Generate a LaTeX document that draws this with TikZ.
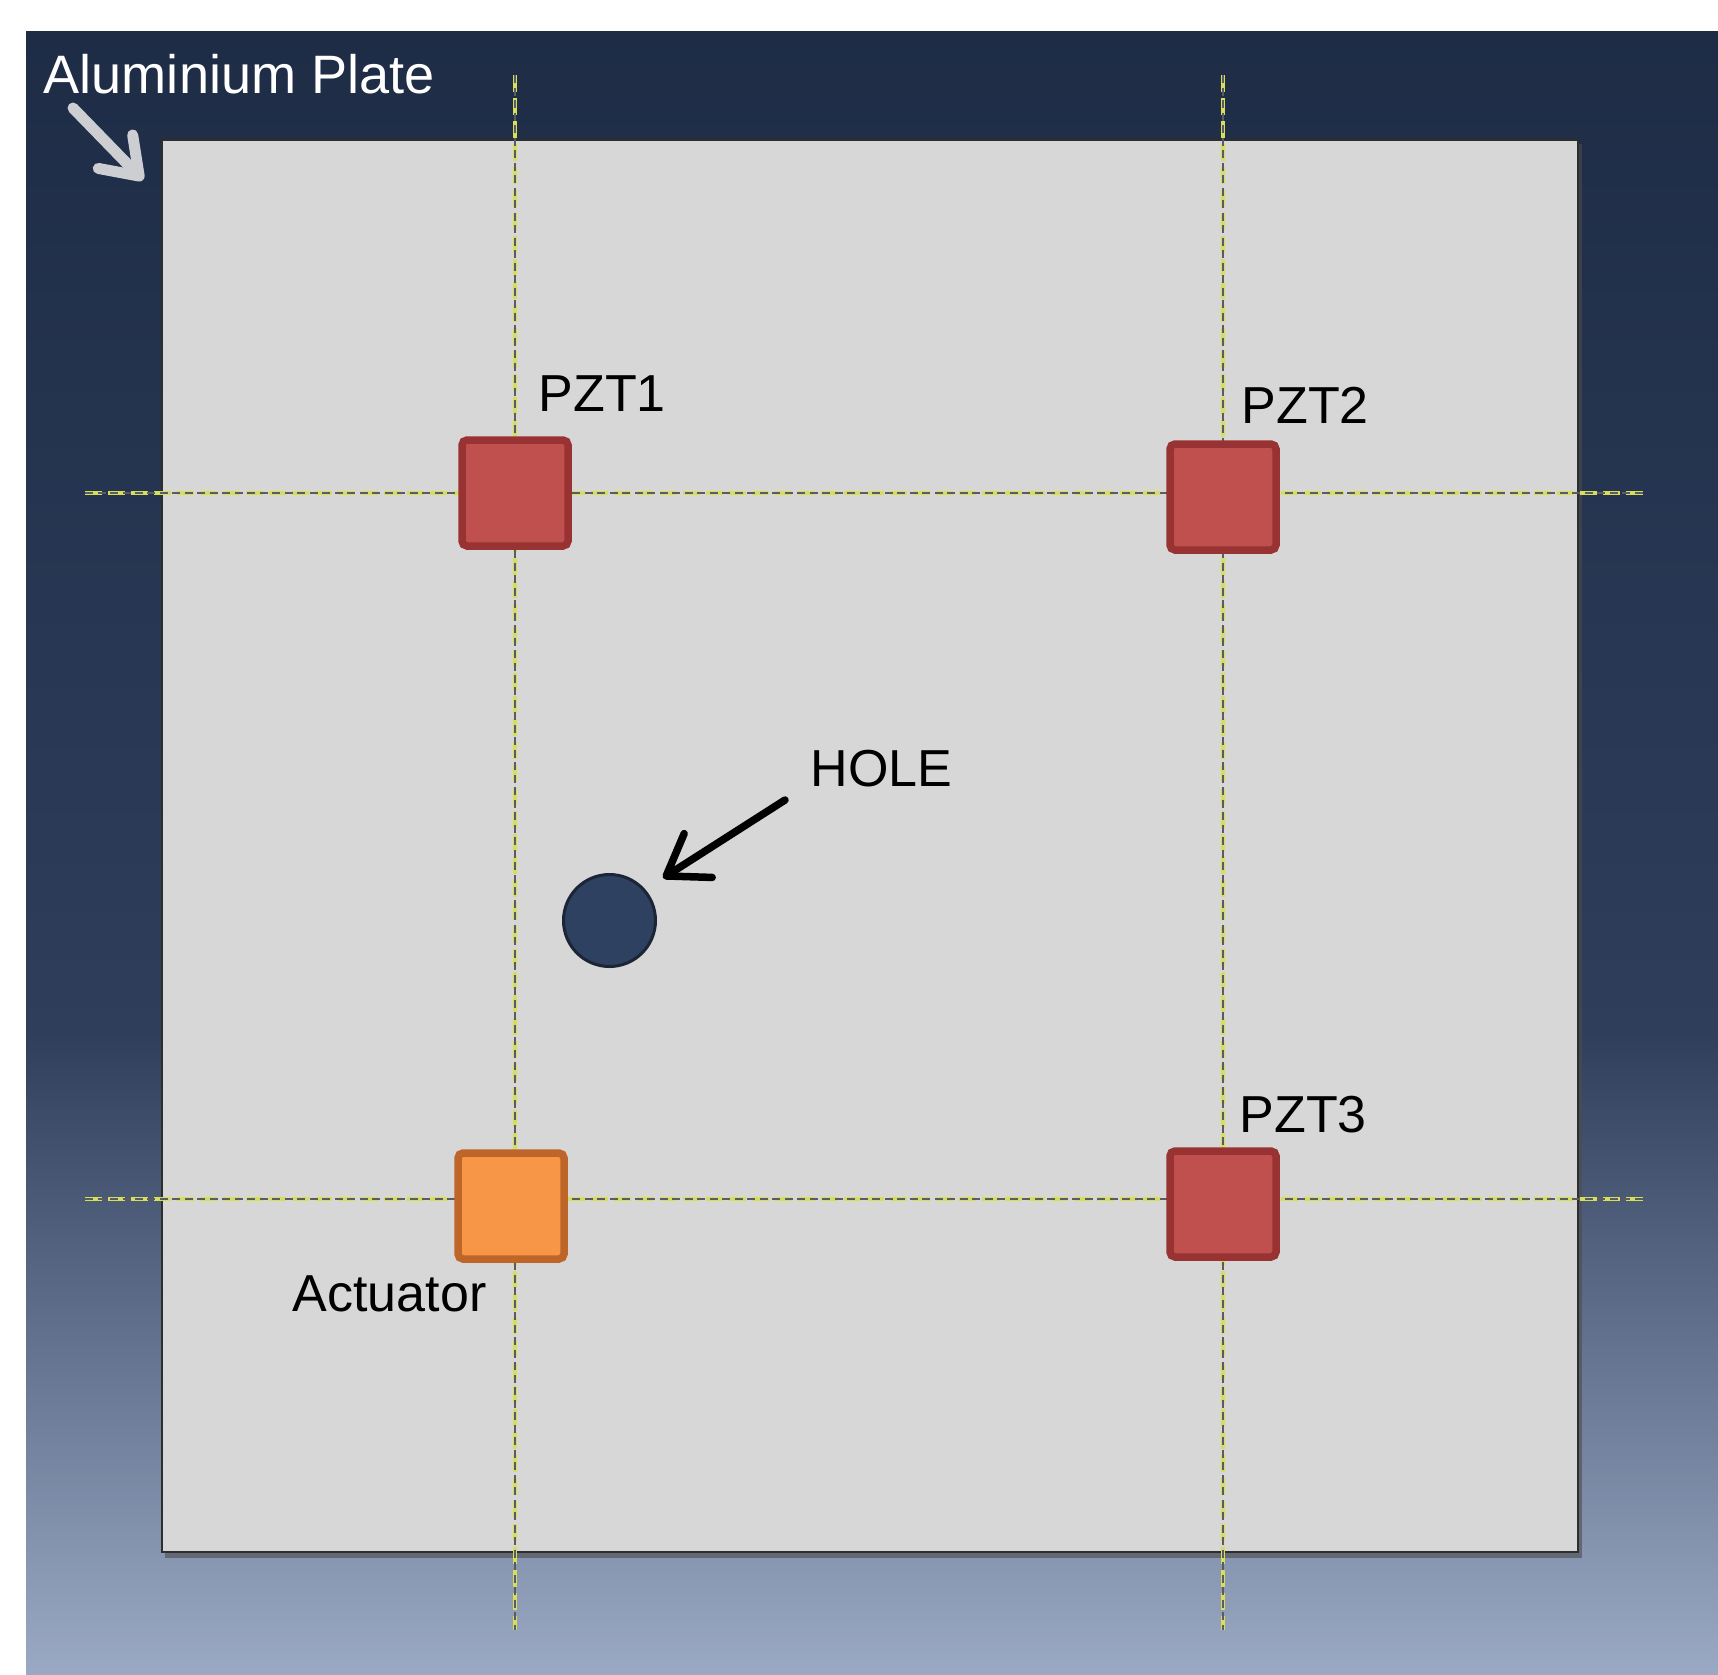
\documentclass[tikz,border=0pt]{standalone}
\usepackage{fontspec}
\setmainfont{Liberation Sans}
\usetikzlibrary{positioning}
\usetikzlibrary{arrows.meta}
\definecolor{bgtop}{HTML}{1E2C46}
\definecolor{bgmid}{HTML}{2E3E5B}
\definecolor{bgbot}{HTML}{9BA9C4}
\definecolor{platefill}{HTML}{D7D7D7}
\definecolor{plateedge}{HTML}{2E2E2E}
\definecolor{pztfill}{HTML}{C0504D}
\definecolor{pztedge}{HTML}{993232}
\definecolor{actfill}{HTML}{F79646}
\definecolor{actedge}{HTML}{BE662A}
\definecolor{holefill}{HTML}{2E4160}
\definecolor{holeedge}{HTML}{1C2536}
\definecolor{guideyellow}{HTML}{D6DE5A}
\definecolor{guidegray}{HTML}{5A5C60}
\definecolor{tagarrow}{HTML}{CDCED2}
\tikzset{lbl/.style={anchor=base west,inner sep=0pt,font=\fontsize{14.8}{17}\selectfont}}
\tikzset{pzt/.style={draw=pztedge,fill=pztfill,line width=0.75mm,rounded corners=0.5mm,minimum size=10.6mm,inner sep=0pt}}
\tikzset{act/.style={pzt,draw=actedge,fill=actfill}}
\tikzset{guide/.style={draw=guideyellow,line width=0.45mm,dash pattern=on 1.7mm off 0.6mm,postaction={draw=guidegray,line width=0.22mm,dash pattern=on 0.8mm off 0.45mm}}}
\tikzset{hole/.style={circle,draw=holeedge,fill=holefill,line width=0.3mm,minimum size=9.2mm,inner sep=0pt}}

\begin{document}
\begin{tikzpicture}[x=0.1mm,y=-0.1mm]
        \useasboundingbox (0,0) rectangle (1718,1675);
        \shade[top color=bgtop,bottom color=bgmid] (26,31) rectangle (1718,1031);
        \shade[top color=bgmid,bottom color=bgbot] (26,1030) rectangle (1718,1675);

        \fill[black!70,opacity=0.6] (165,144) rectangle (1582,1558);
        \fill[platefill,draw=plateedge,line width=0.25mm] (162,140) rectangle (1578,1552);

        \coordinate (v1t) at (515,75);
        \coordinate (v1b) at (515,1630);
        \coordinate (v2t) at (1223,75);
        \coordinate (v2b) at (1223,1630);
        \coordinate (h1l) at (85,493);
        \coordinate (h1r) at (1644,493);
        \coordinate (h2l) at (85,1199);
        \coordinate (h2r) at (1644,1199);

        \draw[guide] (v1t) -- (v1b);
        \draw[guide] (v2t) -- (v2b);
        \draw[guide] (h1l) -- (h1r);
        \draw[guide] (h2l) -- (h2r);

        \node[pzt] (P1) at (515,493) {};
        \node[pzt] (P2) at (1223,497) {};
        \node[pzt] (P3) at (1223,1204) {};
        \node[act] (Act) at (511,1206) {};
        \node[hole] (H) at (609.5,920.5) {};

        \node[lbl] (P1l) at (538,411) {PZT1};
        \node[lbl] (P2l) at (1241,423) {PZT2};
        \node[lbl] (P3l) at (1239,1132) {PZT3};
        \node[lbl] (Actl) at (292,1311) {Actuator};
        \node[lbl] (Hl) at (810,786) {HOLE};
        \node[lbl,text=white,font=\fontsize{15.4}{18}\selectfont] (Pl) at (43,93) {Aluminium Plate};

        \coordinate (Ht) at (785,800);
        \coordinate (Hh) at (663,878);
        \coordinate (Pt) at (73,108);
        \coordinate (Ph) at (143,180);

        \draw[line width=0.75mm,line cap=round,-{Straight Barb[length=3.8mm,width=5.2mm,round]}] (Ht) -- (Hh);
        \draw[tagarrow,line width=1.1mm,line cap=round,-{Straight Barb[length=3.4mm,width=4.8mm,round]}] (Pt) -- (Ph);
\end{tikzpicture}
\end{document}
